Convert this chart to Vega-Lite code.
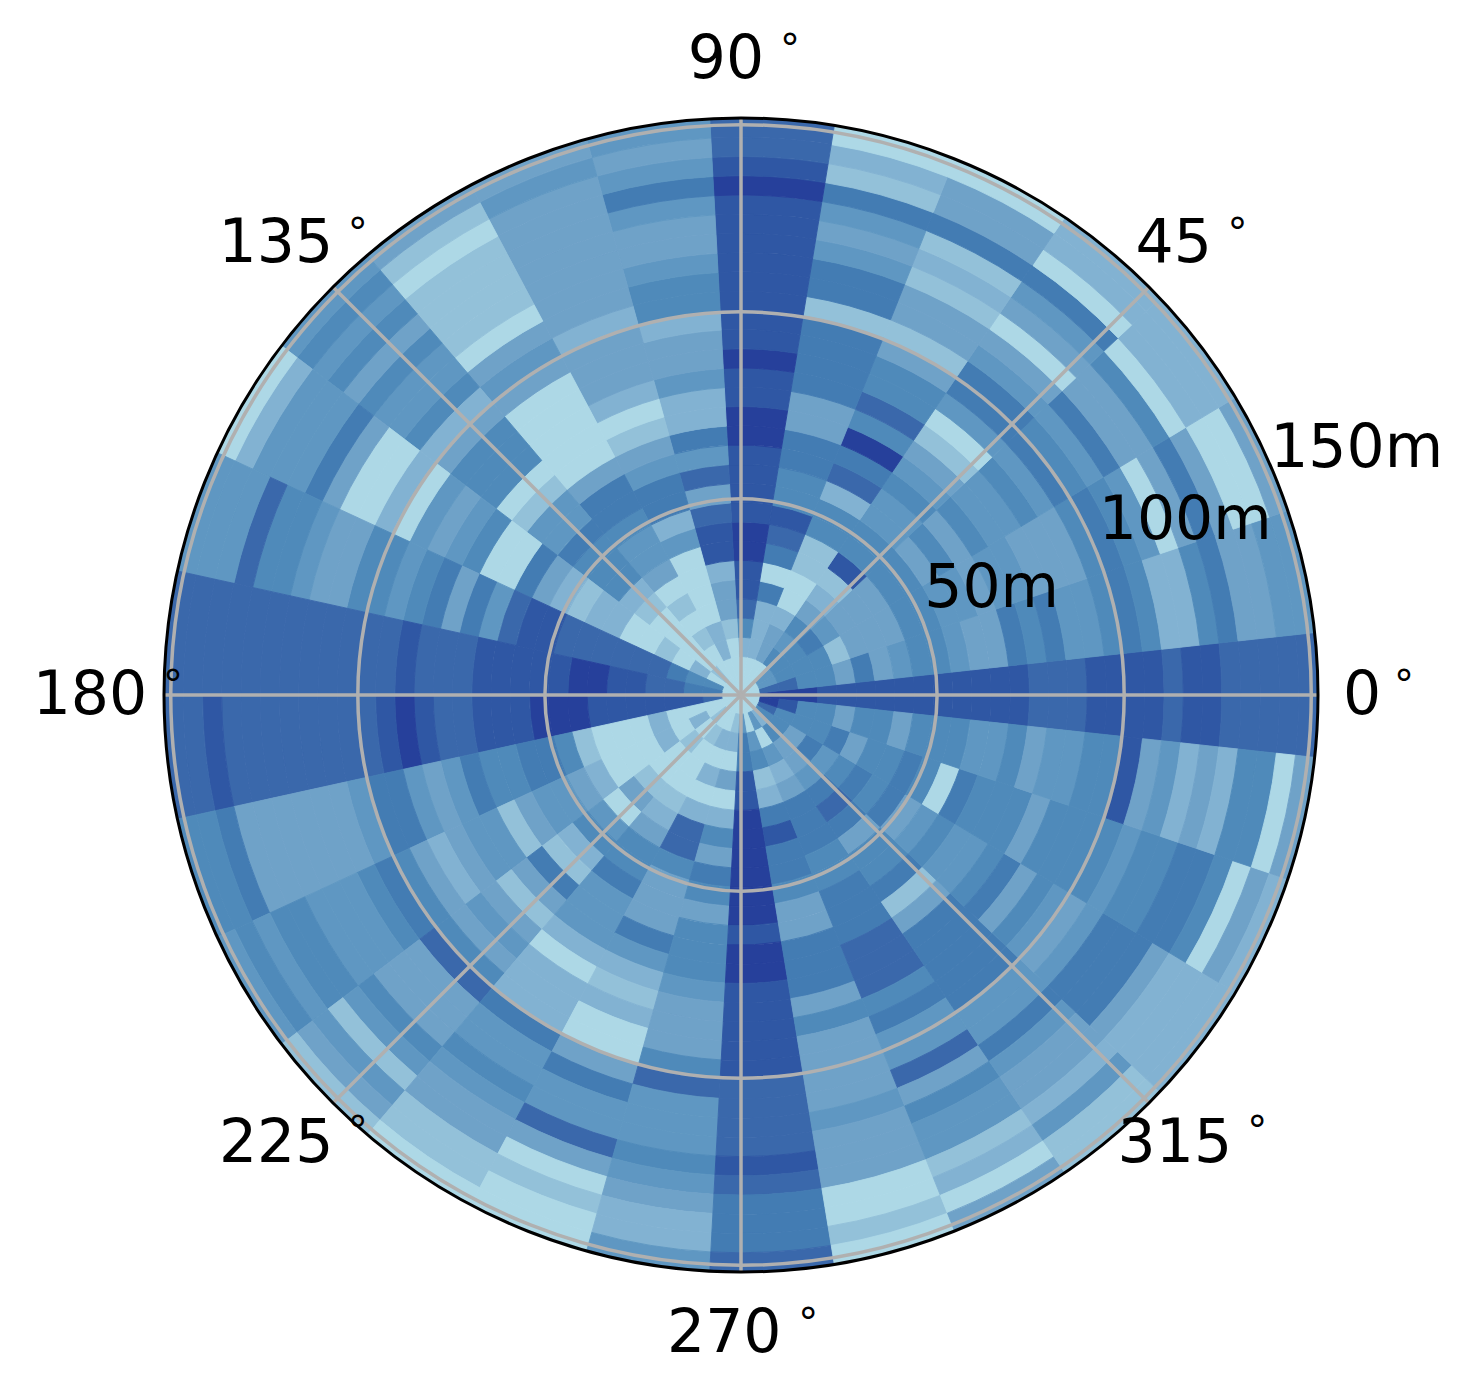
{"$schema":"https://vega.github.io/schema/vega-lite/v6.json","width":1468,"height":1390,"autosize":"none","padding":{"left":7,"right":0,"top":0,"bottom":1},"background":"white","config":{"view":{"stroke":null}},
"layer":[
{"data":{"values":[
{"t":0,"r":0,"v":0},{"t":0,"r":1,"v":9},{"t":0,"r":2,"v":9},{"t":0,"r":3,"v":9},{"t":0,"r":4,"v":8},{"t":0,"r":5,"v":8},{"t":0,"r":6,"v":8},{"t":0,"r":7,"v":8},{"t":0,"r":8,"v":8},{"t":0,"r":9,"v":8},{"t":0,"r":10,"v":8},{"t":0,"r":11,"v":8},{"t":0,"r":12,"v":8},{"t":0,"r":13,"v":8},{"t":0,"r":14,"v":8},{"t":0,"r":15,"v":7},{"t":0,"r":16,"v":7},{"t":0,"r":17,"v":7},{"t":0,"r":18,"v":8},{"t":0,"r":19,"v":8},{"t":0,"r":20,"v":8},{"t":0,"r":21,"v":8},{"t":0,"r":22,"v":7},{"t":0,"r":23,"v":8},{"t":0,"r":24,"v":8},{"t":0,"r":25,"v":7},{"t":0,"r":26,"v":7},{"t":0,"r":27,"v":7},{"t":0,"r":28,"v":7},{"t":0,"r":29,"v":7},
{"t":1,"r":0,"v":0},{"t":1,"r":1,"v":7},{"t":1,"r":2,"v":7},{"t":1,"r":3,"v":5},{"t":1,"r":4,"v":5},{"t":1,"r":5,"v":3},{"t":1,"r":6,"v":6},{"t":1,"r":7,"v":3},{"t":1,"r":8,"v":4},{"t":1,"r":9,"v":5},{"t":1,"r":10,"v":5},{"t":1,"r":11,"v":4},{"t":1,"r":12,"v":3},{"t":1,"r":13,"v":3},{"t":1,"r":14,"v":6},{"t":1,"r":15,"v":5},{"t":1,"r":16,"v":6},{"t":1,"r":17,"v":4},{"t":1,"r":18,"v":4},{"t":1,"r":19,"v":5},{"t":1,"r":20,"v":6},{"t":1,"r":21,"v":5},{"t":1,"r":22,"v":2},{"t":1,"r":23,"v":2},{"t":1,"r":24,"v":5},{"t":1,"r":25,"v":6},{"t":1,"r":26,"v":3},{"t":1,"r":27,"v":3},{"t":1,"r":28,"v":4},{"t":1,"r":29,"v":4},
{"t":2,"r":0,"v":0},{"t":2,"r":1,"v":4},{"t":2,"r":2,"v":5},{"t":2,"r":3,"v":5},{"t":2,"r":4,"v":5},{"t":2,"r":5,"v":1},{"t":2,"r":6,"v":3},{"t":2,"r":7,"v":3},{"t":2,"r":8,"v":3},{"t":2,"r":9,"v":5},{"t":2,"r":10,"v":5},{"t":2,"r":11,"v":4},{"t":2,"r":12,"v":4},{"t":2,"r":13,"v":3},{"t":2,"r":14,"v":4},{"t":2,"r":15,"v":4},{"t":2,"r":16,"v":3},{"t":2,"r":17,"v":3},{"t":2,"r":18,"v":3},{"t":2,"r":19,"v":5},{"t":2,"r":20,"v":6},{"t":2,"r":21,"v":5},{"t":2,"r":22,"v":4},{"t":2,"r":23,"v":0},{"t":2,"r":24,"v":3},{"t":2,"r":25,"v":6},{"t":2,"r":26,"v":3},{"t":2,"r":27,"v":0},{"t":2,"r":28,"v":0},{"t":2,"r":29,"v":3},
{"t":3,"r":0,"v":0},{"t":3,"r":1,"v":4},{"t":3,"r":2,"v":5},{"t":3,"r":3,"v":5},{"t":3,"r":4,"v":6},{"t":3,"r":5,"v":4},{"t":3,"r":6,"v":3},{"t":3,"r":7,"v":3},{"t":3,"r":8,"v":3},{"t":3,"r":9,"v":5},{"t":3,"r":10,"v":5},{"t":3,"r":11,"v":3},{"t":3,"r":12,"v":5},{"t":3,"r":13,"v":3},{"t":3,"r":14,"v":5},{"t":3,"r":15,"v":4},{"t":3,"r":16,"v":4},{"t":3,"r":17,"v":5},{"t":3,"r":18,"v":4},{"t":3,"r":19,"v":6},{"t":3,"r":20,"v":5},{"t":3,"r":21,"v":4},{"t":3,"r":22,"v":6},{"t":3,"r":23,"v":3},{"t":3,"r":24,"v":3},{"t":3,"r":25,"v":5},{"t":3,"r":26,"v":0},{"t":3,"r":27,"v":2},{"t":3,"r":28,"v":2},{"t":3,"r":29,"v":2},
{"t":4,"r":0,"v":0},{"t":4,"r":1,"v":0},{"t":4,"r":2,"v":5},{"t":4,"r":3,"v":4},{"t":4,"r":4,"v":5},{"t":4,"r":5,"v":3},{"t":4,"r":6,"v":2},{"t":4,"r":7,"v":1},{"t":4,"r":8,"v":8},{"t":4,"r":9,"v":5},{"t":4,"r":10,"v":5},{"t":4,"r":11,"v":4},{"t":4,"r":12,"v":4},{"t":4,"r":13,"v":5},{"t":4,"r":14,"v":4},{"t":4,"r":15,"v":3},{"t":4,"r":16,"v":1},{"t":4,"r":17,"v":0},{"t":4,"r":18,"v":4},{"t":4,"r":19,"v":6},{"t":4,"r":20,"v":6},{"t":4,"r":21,"v":4},{"t":4,"r":22,"v":3},{"t":4,"r":23,"v":0},{"t":4,"r":24,"v":3},{"t":4,"r":25,"v":4},{"t":4,"r":26,"v":6},{"t":4,"r":27,"v":0},{"t":4,"r":28,"v":2},{"t":4,"r":29,"v":2},
{"t":5,"r":0,"v":0},{"t":5,"r":1,"v":0},{"t":5,"r":2,"v":3},{"t":5,"r":3,"v":3},{"t":5,"r":4,"v":2},{"t":5,"r":5,"v":0},{"t":5,"r":6,"v":0},{"t":5,"r":7,"v":1},{"t":5,"r":8,"v":1},{"t":5,"r":9,"v":5},{"t":5,"r":10,"v":5},{"t":5,"r":11,"v":2},{"t":5,"r":12,"v":7},{"t":5,"r":13,"v":6},{"t":5,"r":14,"v":9},{"t":5,"r":15,"v":5},{"t":5,"r":16,"v":7},{"t":5,"r":17,"v":5},{"t":5,"r":18,"v":5},{"t":5,"r":19,"v":3},{"t":5,"r":20,"v":1},{"t":5,"r":21,"v":3},{"t":5,"r":22,"v":3},{"t":5,"r":23,"v":1},{"t":5,"r":24,"v":2},{"t":5,"r":25,"v":1},{"t":5,"r":26,"v":6},{"t":5,"r":27,"v":3},{"t":5,"r":28,"v":3},{"t":5,"r":29,"v":0},
{"t":6,"r":0,"v":0},{"t":6,"r":1,"v":0},{"t":6,"r":2,"v":2},{"t":6,"r":3,"v":2},{"t":6,"r":4,"v":2},{"t":6,"r":5,"v":6},{"t":6,"r":6,"v":0},{"t":6,"r":7,"v":6},{"t":6,"r":8,"v":7},{"t":6,"r":9,"v":8},{"t":6,"r":10,"v":5},{"t":6,"r":11,"v":5},{"t":6,"r":12,"v":6},{"t":6,"r":13,"v":6},{"t":6,"r":14,"v":3},{"t":6,"r":15,"v":3},{"t":6,"r":16,"v":6},{"t":6,"r":17,"v":6},{"t":6,"r":18,"v":6},{"t":6,"r":19,"v":6},{"t":6,"r":20,"v":1},{"t":6,"r":21,"v":6},{"t":6,"r":22,"v":6},{"t":6,"r":23,"v":4},{"t":6,"r":24,"v":3},{"t":6,"r":25,"v":4},{"t":6,"r":26,"v":6},{"t":6,"r":27,"v":1},{"t":6,"r":28,"v":2},{"t":6,"r":29,"v":0},
{"t":7,"r":0,"v":0},{"t":7,"r":1,"v":0},{"t":7,"r":2,"v":2},{"t":7,"r":3,"v":5},{"t":7,"r":4,"v":7},{"t":7,"r":5,"v":8},{"t":7,"r":6,"v":8},{"t":7,"r":7,"v":9},{"t":7,"r":8,"v":9},{"t":7,"r":9,"v":8},{"t":7,"r":10,"v":8},{"t":7,"r":11,"v":8},{"t":7,"r":12,"v":8},{"t":7,"r":13,"v":9},{"t":7,"r":14,"v":9},{"t":7,"r":15,"v":8},{"t":7,"r":16,"v":8},{"t":7,"r":17,"v":9},{"t":7,"r":18,"v":8},{"t":7,"r":19,"v":8},{"t":7,"r":20,"v":8},{"t":7,"r":21,"v":8},{"t":7,"r":22,"v":8},{"t":7,"r":23,"v":8},{"t":7,"r":24,"v":8},{"t":7,"r":25,"v":8},{"t":7,"r":26,"v":9},{"t":7,"r":27,"v":8},{"t":7,"r":28,"v":7},{"t":7,"r":29,"v":7},
{"t":8,"r":0,"v":0},{"t":8,"r":1,"v":0},{"t":8,"r":2,"v":0},{"t":8,"r":3,"v":1},{"t":8,"r":4,"v":3},{"t":8,"r":5,"v":3},{"t":8,"r":6,"v":2},{"t":8,"r":7,"v":8},{"t":8,"r":8,"v":8},{"t":8,"r":9,"v":7},{"t":8,"r":10,"v":3},{"t":8,"r":11,"v":7},{"t":8,"r":12,"v":4},{"t":8,"r":13,"v":6},{"t":8,"r":14,"v":2},{"t":8,"r":15,"v":2},{"t":8,"r":16,"v":4},{"t":8,"r":17,"v":3},{"t":8,"r":18,"v":3},{"t":8,"r":19,"v":2},{"t":8,"r":20,"v":5},{"t":8,"r":21,"v":5},{"t":8,"r":22,"v":4},{"t":8,"r":23,"v":3},{"t":8,"r":24,"v":3},{"t":8,"r":25,"v":4},{"t":8,"r":26,"v":6},{"t":8,"r":27,"v":4},{"t":8,"r":28,"v":3},{"t":8,"r":29,"v":4},
{"t":9,"r":0,"v":0},{"t":9,"r":1,"v":0},{"t":9,"r":2,"v":2},{"t":9,"r":3,"v":2},{"t":9,"r":4,"v":0},{"t":9,"r":5,"v":0},{"t":9,"r":6,"v":0},{"t":9,"r":7,"v":0},{"t":9,"r":8,"v":4},{"t":9,"r":9,"v":2},{"t":9,"r":10,"v":6},{"t":9,"r":11,"v":6},{"t":9,"r":12,"v":4},{"t":9,"r":13,"v":3},{"t":9,"r":14,"v":1},{"t":9,"r":15,"v":0},{"t":9,"r":16,"v":2},{"t":9,"r":17,"v":3},{"t":9,"r":18,"v":3},{"t":9,"r":19,"v":3},{"t":9,"r":20,"v":2},{"t":9,"r":21,"v":3},{"t":9,"r":22,"v":3},{"t":9,"r":23,"v":3},{"t":9,"r":24,"v":3},{"t":9,"r":25,"v":3},{"t":9,"r":26,"v":3},{"t":9,"r":27,"v":3},{"t":9,"r":28,"v":4},{"t":9,"r":29,"v":3},
{"t":10,"r":0,"v":0},{"t":10,"r":1,"v":0},{"t":10,"r":2,"v":0},{"t":10,"r":3,"v":1},{"t":10,"r":4,"v":0},{"t":10,"r":5,"v":1},{"t":10,"r":6,"v":0},{"t":10,"r":7,"v":3},{"t":10,"r":8,"v":4},{"t":10,"r":9,"v":4},{"t":10,"r":10,"v":5},{"t":10,"r":11,"v":6},{"t":10,"r":12,"v":6},{"t":10,"r":13,"v":3},{"t":10,"r":14,"v":0},{"t":10,"r":15,"v":0},{"t":10,"r":16,"v":0},{"t":10,"r":17,"v":0},{"t":10,"r":18,"v":0},{"t":10,"r":19,"v":3},{"t":10,"r":20,"v":4},{"t":10,"r":21,"v":3},{"t":10,"r":22,"v":0},{"t":10,"r":23,"v":1},{"t":10,"r":24,"v":1},{"t":10,"r":25,"v":1},{"t":10,"r":26,"v":1},{"t":10,"r":27,"v":0},{"t":10,"r":28,"v":1},{"t":10,"r":29,"v":3},
{"t":11,"r":0,"v":0},{"t":11,"r":1,"v":1},{"t":11,"r":2,"v":0},{"t":11,"r":3,"v":0},{"t":11,"r":4,"v":0},{"t":11,"r":5,"v":0},{"t":11,"r":6,"v":1},{"t":11,"r":7,"v":2},{"t":11,"r":8,"v":5},{"t":11,"r":9,"v":5},{"t":11,"r":10,"v":5},{"t":11,"r":11,"v":6},{"t":11,"r":12,"v":4},{"t":11,"r":13,"v":4},{"t":11,"r":14,"v":1},{"t":11,"r":15,"v":0},{"t":11,"r":16,"v":5},{"t":11,"r":17,"v":5},{"t":11,"r":18,"v":5},{"t":11,"r":19,"v":3},{"t":11,"r":20,"v":2},{"t":11,"r":21,"v":5},{"t":11,"r":22,"v":4},{"t":11,"r":23,"v":4},{"t":11,"r":24,"v":5},{"t":11,"r":25,"v":3},{"t":11,"r":26,"v":5},{"t":11,"r":27,"v":4},{"t":11,"r":28,"v":5},{"t":11,"r":29,"v":4},
{"t":12,"r":0,"v":0},{"t":12,"r":1,"v":0},{"t":12,"r":2,"v":2},{"t":12,"r":3,"v":0},{"t":12,"r":4,"v":1},{"t":12,"r":5,"v":0},{"t":12,"r":6,"v":0},{"t":12,"r":7,"v":2},{"t":12,"r":8,"v":2},{"t":12,"r":9,"v":1},{"t":12,"r":10,"v":2},{"t":12,"r":11,"v":3},{"t":12,"r":12,"v":6},{"t":12,"r":13,"v":0},{"t":12,"r":14,"v":0},{"t":12,"r":15,"v":5},{"t":12,"r":16,"v":4},{"t":12,"r":17,"v":3},{"t":12,"r":18,"v":4},{"t":12,"r":19,"v":0},{"t":12,"r":20,"v":2},{"t":12,"r":21,"v":0},{"t":12,"r":22,"v":0},{"t":12,"r":23,"v":3},{"t":12,"r":24,"v":6},{"t":12,"r":25,"v":4},{"t":12,"r":26,"v":4},{"t":12,"r":27,"v":4},{"t":12,"r":28,"v":2},{"t":12,"r":29,"v":0},
{"t":13,"r":0,"v":0},{"t":13,"r":1,"v":5},{"t":13,"r":2,"v":5},{"t":13,"r":3,"v":6},{"t":13,"r":4,"v":7},{"t":13,"r":5,"v":7},{"t":13,"r":6,"v":7},{"t":13,"r":7,"v":7},{"t":13,"r":8,"v":7},{"t":13,"r":9,"v":7},{"t":13,"r":10,"v":8},{"t":13,"r":11,"v":8},{"t":13,"r":12,"v":7},{"t":13,"r":13,"v":4},{"t":13,"r":14,"v":6},{"t":13,"r":15,"v":3},{"t":13,"r":16,"v":6},{"t":13,"r":17,"v":5},{"t":13,"r":18,"v":4},{"t":13,"r":19,"v":5},{"t":13,"r":20,"v":5},{"t":13,"r":21,"v":3},{"t":13,"r":22,"v":3},{"t":13,"r":23,"v":4},{"t":13,"r":24,"v":5},{"t":13,"r":25,"v":5},{"t":13,"r":26,"v":7},{"t":13,"r":27,"v":4},{"t":13,"r":28,"v":4},{"t":13,"r":29,"v":4},
{"t":14,"r":0,"v":0},{"t":14,"r":1,"v":6},{"t":14,"r":2,"v":6},{"t":14,"r":3,"v":7},{"t":14,"r":4,"v":7},{"t":14,"r":5,"v":8},{"t":14,"r":6,"v":8},{"t":14,"r":7,"v":9},{"t":14,"r":8,"v":9},{"t":14,"r":9,"v":8},{"t":14,"r":10,"v":8},{"t":14,"r":11,"v":8},{"t":14,"r":12,"v":8},{"t":14,"r":13,"v":8},{"t":14,"r":14,"v":7},{"t":14,"r":15,"v":7},{"t":14,"r":16,"v":7},{"t":14,"r":17,"v":8},{"t":14,"r":18,"v":7},{"t":14,"r":19,"v":7},{"t":14,"r":20,"v":7},{"t":14,"r":21,"v":7},{"t":14,"r":22,"v":7},{"t":14,"r":23,"v":7},{"t":14,"r":24,"v":7},{"t":14,"r":25,"v":7},{"t":14,"r":26,"v":7},{"t":14,"r":27,"v":7},{"t":14,"r":28,"v":7},{"t":14,"r":29,"v":7},
{"t":15,"r":0,"v":0},{"t":15,"r":1,"v":7},{"t":15,"r":2,"v":8},{"t":15,"r":3,"v":8},{"t":15,"r":4,"v":8},{"t":15,"r":5,"v":8},{"t":15,"r":6,"v":8},{"t":15,"r":7,"v":8},{"t":15,"r":8,"v":9},{"t":15,"r":9,"v":9},{"t":15,"r":10,"v":9},{"t":15,"r":11,"v":8},{"t":15,"r":12,"v":8},{"t":15,"r":13,"v":8},{"t":15,"r":14,"v":7},{"t":15,"r":15,"v":7},{"t":15,"r":16,"v":8},{"t":15,"r":17,"v":9},{"t":15,"r":18,"v":8},{"t":15,"r":19,"v":7},{"t":15,"r":20,"v":7},{"t":15,"r":21,"v":7},{"t":15,"r":22,"v":7},{"t":15,"r":23,"v":7},{"t":15,"r":24,"v":7},{"t":15,"r":25,"v":7},{"t":15,"r":26,"v":7},{"t":15,"r":27,"v":8},{"t":15,"r":28,"v":7},{"t":15,"r":29,"v":7},
{"t":16,"r":0,"v":0},{"t":16,"r":1,"v":0},{"t":16,"r":2,"v":0},{"t":16,"r":3,"v":0},{"t":16,"r":4,"v":2},{"t":16,"r":5,"v":0},{"t":16,"r":6,"v":0},{"t":16,"r":7,"v":0},{"t":16,"r":8,"v":1},{"t":16,"r":9,"v":5},{"t":16,"r":10,"v":6},{"t":16,"r":11,"v":6},{"t":16,"r":12,"v":5},{"t":16,"r":13,"v":5},{"t":16,"r":14,"v":6},{"t":16,"r":15,"v":4},{"t":16,"r":16,"v":3},{"t":16,"r":17,"v":4},{"t":16,"r":18,"v":6},{"t":16,"r":19,"v":6},{"t":16,"r":20,"v":4},{"t":16,"r":21,"v":3},{"t":16,"r":22,"v":3},{"t":16,"r":23,"v":3},{"t":16,"r":24,"v":3},{"t":16,"r":25,"v":3},{"t":16,"r":26,"v":3},{"t":16,"r":27,"v":6},{"t":16,"r":28,"v":5},{"t":16,"r":29,"v":5},
{"t":17,"r":0,"v":0},{"t":17,"r":1,"v":0},{"t":17,"r":2,"v":2},{"t":17,"r":3,"v":0},{"t":17,"r":4,"v":2},{"t":17,"r":5,"v":0},{"t":17,"r":6,"v":0},{"t":17,"r":7,"v":0},{"t":17,"r":8,"v":2},{"t":17,"r":9,"v":3},{"t":17,"r":10,"v":4},{"t":17,"r":11,"v":4},{"t":17,"r":12,"v":3},{"t":17,"r":13,"v":1},{"t":17,"r":14,"v":4},{"t":17,"r":15,"v":4},{"t":17,"r":16,"v":3},{"t":17,"r":17,"v":2},{"t":17,"r":18,"v":3},{"t":17,"r":19,"v":5},{"t":17,"r":20,"v":6},{"t":17,"r":21,"v":5},{"t":17,"r":22,"v":4},{"t":17,"r":23,"v":4},{"t":17,"r":24,"v":4},{"t":17,"r":25,"v":5},{"t":17,"r":26,"v":5},{"t":17,"r":27,"v":4},{"t":17,"r":28,"v":5},{"t":17,"r":29,"v":4},
{"t":18,"r":0,"v":0},{"t":18,"r":1,"v":1},{"t":18,"r":2,"v":0},{"t":18,"r":3,"v":1},{"t":18,"r":4,"v":0},{"t":18,"r":5,"v":0},{"t":18,"r":6,"v":1},{"t":18,"r":7,"v":3},{"t":18,"r":8,"v":0},{"t":18,"r":9,"v":4},{"t":18,"r":10,"v":5},{"t":18,"r":11,"v":2},{"t":18,"r":12,"v":1},{"t":18,"r":13,"v":6},{"t":18,"r":14,"v":3},{"t":18,"r":15,"v":1},{"t":18,"r":16,"v":3},{"t":18,"r":17,"v":4},{"t":18,"r":18,"v":3},{"t":18,"r":19,"v":5},{"t":18,"r":20,"v":7},{"t":18,"r":21,"v":3},{"t":18,"r":22,"v":3},{"t":18,"r":23,"v":3},{"t":18,"r":24,"v":5},{"t":18,"r":25,"v":4},{"t":18,"r":26,"v":1},{"t":18,"r":27,"v":4},{"t":18,"r":28,"v":3},{"t":18,"r":29,"v":1},
{"t":19,"r":0,"v":0},{"t":19,"r":1,"v":0},{"t":19,"r":2,"v":1},{"t":19,"r":3,"v":0},{"t":19,"r":4,"v":0},{"t":19,"r":5,"v":0},{"t":19,"r":6,"v":1},{"t":19,"r":7,"v":2},{"t":19,"r":8,"v":3},{"t":19,"r":9,"v":5},{"t":19,"r":10,"v":5},{"t":19,"r":11,"v":6},{"t":19,"r":12,"v":4},{"t":19,"r":13,"v":4},{"t":19,"r":14,"v":4},{"t":19,"r":15,"v":2},{"t":19,"r":16,"v":0},{"t":19,"r":17,"v":2},{"t":19,"r":18,"v":2},{"t":19,"r":19,"v":2},{"t":19,"r":20,"v":6},{"t":19,"r":21,"v":4},{"t":19,"r":22,"v":4},{"t":19,"r":23,"v":5},{"t":19,"r":24,"v":4},{"t":19,"r":25,"v":3},{"t":19,"r":26,"v":3},{"t":19,"r":27,"v":1},{"t":19,"r":28,"v":1},{"t":19,"r":29,"v":0},
{"t":20,"r":0,"v":0},{"t":20,"r":1,"v":0},{"t":20,"r":2,"v":2},{"t":20,"r":3,"v":0},{"t":20,"r":4,"v":2},{"t":20,"r":5,"v":0},{"t":20,"r":6,"v":2},{"t":20,"r":7,"v":7},{"t":20,"r":8,"v":7},{"t":20,"r":9,"v":5},{"t":20,"r":10,"v":3},{"t":20,"r":11,"v":3},{"t":20,"r":12,"v":3},{"t":20,"r":13,"v":6},{"t":20,"r":14,"v":4},{"t":20,"r":15,"v":2},{"t":20,"r":16,"v":1},{"t":20,"r":17,"v":2},{"t":20,"r":18,"v":0},{"t":20,"r":19,"v":0},{"t":20,"r":20,"v":3},{"t":20,"r":21,"v":6},{"t":20,"r":22,"v":4},{"t":20,"r":23,"v":4},{"t":20,"r":24,"v":7},{"t":20,"r":25,"v":3},{"t":20,"r":26,"v":0},{"t":20,"r":27,"v":1},{"t":20,"r":28,"v":0},{"t":20,"r":29,"v":0},
{"t":21,"r":0,"v":0},{"t":21,"r":1,"v":1},{"t":21,"r":2,"v":2},{"t":21,"r":3,"v":0},{"t":21,"r":4,"v":3},{"t":21,"r":5,"v":0},{"t":21,"r":6,"v":2},{"t":21,"r":7,"v":5},{"t":21,"r":8,"v":3},{"t":21,"r":9,"v":6},{"t":21,"r":10,"v":5},{"t":21,"r":11,"v":3},{"t":21,"r":12,"v":5},{"t":21,"r":13,"v":5},{"t":21,"r":14,"v":5},{"t":21,"r":15,"v":4},{"t":21,"r":16,"v":3},{"t":21,"r":17,"v":3},{"t":21,"r":18,"v":3},{"t":21,"r":19,"v":5},{"t":21,"r":20,"v":7},{"t":21,"r":21,"v":4},{"t":21,"r":22,"v":4},{"t":21,"r":23,"v":4},{"t":21,"r":24,"v":5},{"t":21,"r":25,"v":4},{"t":21,"r":26,"v":3},{"t":21,"r":27,"v":2},{"t":21,"r":28,"v":2},{"t":21,"r":29,"v":4},
{"t":22,"r":0,"v":0},{"t":22,"r":1,"v":4},{"t":22,"r":2,"v":6},{"t":22,"r":3,"v":6},{"t":22,"r":4,"v":8},{"t":22,"r":5,"v":8},{"t":22,"r":6,"v":9},{"t":22,"r":7,"v":9},{"t":22,"r":8,"v":9},{"t":22,"r":9,"v":9},{"t":22,"r":10,"v":9},{"t":22,"r":11,"v":9},{"t":22,"r":12,"v":8},{"t":22,"r":13,"v":9},{"t":22,"r":14,"v":9},{"t":22,"r":15,"v":8},{"t":22,"r":16,"v":8},{"t":22,"r":17,"v":8},{"t":22,"r":18,"v":8},{"t":22,"r":19,"v":8},{"t":22,"r":20,"v":7},{"t":22,"r":21,"v":7},{"t":22,"r":22,"v":7},{"t":22,"r":23,"v":7},{"t":22,"r":24,"v":8},{"t":22,"r":25,"v":7},{"t":22,"r":26,"v":6},{"t":22,"r":27,"v":6},{"t":22,"r":28,"v":6},{"t":22,"r":29,"v":7},
{"t":23,"r":0,"v":0},{"t":23,"r":1,"v":0},{"t":23,"r":2,"v":4},{"t":23,"r":3,"v":5},{"t":23,"r":4,"v":1},{"t":23,"r":5,"v":2},{"t":23,"r":6,"v":6},{"t":23,"r":7,"v":8},{"t":23,"r":8,"v":6},{"t":23,"r":9,"v":6},{"t":23,"r":10,"v":5},{"t":23,"r":11,"v":3},{"t":23,"r":12,"v":3},{"t":23,"r":13,"v":6},{"t":23,"r":14,"v":6},{"t":23,"r":15,"v":6},{"t":23,"r":16,"v":3},{"t":23,"r":17,"v":5},{"t":23,"r":18,"v":3},{"t":23,"r":19,"v":3},{"t":23,"r":20,"v":3},{"t":23,"r":21,"v":3},{"t":23,"r":22,"v":4},{"t":23,"r":23,"v":3},{"t":23,"r":24,"v":3},{"t":23,"r":25,"v":3},{"t":23,"r":26,"v":0},{"t":23,"r":27,"v":0},{"t":23,"r":28,"v":1},{"t":23,"r":29,"v":0},
{"t":24,"r":0,"v":0},{"t":24,"r":1,"v":4},{"t":24,"r":2,"v":0},{"t":24,"r":3,"v":4},{"t":24,"r":4,"v":2},{"t":24,"r":5,"v":3},{"t":24,"r":6,"v":6},{"t":24,"r":7,"v":6},{"t":24,"r":8,"v":6},{"t":24,"r":9,"v":5},{"t":24,"r":10,"v":5},{"t":24,"r":11,"v":6},{"t":24,"r":12,"v":6},{"t":24,"r":13,"v":6},{"t":24,"r":14,"v":7},{"t":24,"r":15,"v":7},{"t":24,"r":16,"v":7},{"t":24,"r":17,"v":5},{"t":24,"r":18,"v":6},{"t":24,"r":19,"v":4},{"t":24,"r":20,"v":4},{"t":24,"r":21,"v":7},{"t":24,"r":22,"v":3},{"t":24,"r":23,"v":5},{"t":24,"r":24,"v":4},{"t":24,"r":25,"v":4},{"t":24,"r":26,"v":1},{"t":24,"r":27,"v":2},{"t":24,"r":28,"v":0},{"t":24,"r":29,"v":3},
{"t":25,"r":0,"v":0},{"t":25,"r":1,"v":2},{"t":25,"r":2,"v":5},{"t":25,"r":3,"v":3},{"t":25,"r":4,"v":3},{"t":25,"r":5,"v":4},{"t":25,"r":6,"v":6},{"t":25,"r":7,"v":7},{"t":25,"r":8,"v":6},{"t":25,"r":9,"v":3},{"t":25,"r":10,"v":5},{"t":25,"r":11,"v":5},{"t":25,"r":12,"v":6},{"t":25,"r":13,"v":1},{"t":25,"r":14,"v":3},{"t":25,"r":15,"v":6},{"t":25,"r":16,"v":6},{"t":25,"r":17,"v":6},{"t":25,"r":18,"v":6},{"t":25,"r":19,"v":6},{"t":25,"r":20,"v":4},{"t":25,"r":21,"v":4},{"t":25,"r":22,"v":6},{"t":25,"r":23,"v":4},{"t":25,"r":24,"v":3},{"t":25,"r":25,"v":3},{"t":25,"r":26,"v":2},{"t":25,"r":27,"v":4},{"t":25,"r":28,"v":1},{"t":25,"r":29,"v":1},
{"t":26,"r":0,"v":0},{"t":26,"r":1,"v":5},{"t":26,"r":2,"v":5},{"t":26,"r":3,"v":3},{"t":26,"r":4,"v":6},{"t":26,"r":5,"v":4},{"t":26,"r":6,"v":5},{"t":26,"r":7,"v":6},{"t":26,"r":8,"v":5},{"t":26,"r":9,"v":6},{"t":26,"r":10,"v":3},{"t":26,"r":11,"v":4},{"t":26,"r":12,"v":5},{"t":26,"r":13,"v":4},{"t":26,"r":14,"v":4},{"t":26,"r":15,"v":5},{"t":26,"r":16,"v":6},{"t":26,"r":17,"v":3},{"t":26,"r":18,"v":5},{"t":26,"r":19,"v":4},{"t":26,"r":20,"v":3},{"t":26,"r":21,"v":4},{"t":26,"r":22,"v":6},{"t":26,"r":23,"v":6},{"t":26,"r":24,"v":6},{"t":26,"r":25,"v":3},{"t":26,"r":26,"v":2},{"t":26,"r":27,"v":2},{"t":26,"r":28,"v":2},{"t":26,"r":29,"v":2},
{"t":27,"r":0,"v":0},{"t":27,"r":1,"v":7},{"t":27,"r":2,"v":5},{"t":27,"r":3,"v":5},{"t":27,"r":4,"v":5},{"t":27,"r":5,"v":6},{"t":27,"r":6,"v":3},{"t":27,"r":7,"v":5},{"t":27,"r":8,"v":5},{"t":27,"r":9,"v":6},{"t":27,"r":10,"v":5},{"t":27,"r":11,"v":0},{"t":27,"r":12,"v":6},{"t":27,"r":13,"v":5},{"t":27,"r":14,"v":5},{"t":27,"r":15,"v":5},{"t":27,"r":16,"v":3},{"t":27,"r":17,"v":5},{"t":27,"r":18,"v":5},{"t":27,"r":19,"v":5},{"t":27,"r":20,"v":5},{"t":27,"r":21,"v":4},{"t":27,"r":22,"v":5},{"t":27,"r":23,"v":5},{"t":27,"r":24,"v":6},{"t":27,"r":25,"v":6},{"t":27,"r":26,"v":5},{"t":27,"r":27,"v":0},{"t":27,"r":28,"v":3},{"t":27,"r":29,"v":2},
{"t":28,"r":0,"v":0},{"t":28,"r":1,"v":9},{"t":28,"r":2,"v":8},{"t":28,"r":3,"v":5},{"t":28,"r":4,"v":5},{"t":28,"r":5,"v":3},{"t":28,"r":6,"v":5},{"t":28,"r":7,"v":5},{"t":28,"r":8,"v":3},{"t":28,"r":9,"v":5},{"t":28,"r":10,"v":5},{"t":28,"r":11,"v":5},{"t":28,"r":12,"v":4},{"t":28,"r":13,"v":4},{"t":28,"r":14,"v":5},{"t":28,"r":15,"v":3},{"t":28,"r":16,"v":4},{"t":28,"r":17,"v":4},{"t":28,"r":18,"v":5},{"t":28,"r":19,"v":5},{"t":28,"r":20,"v":8},{"t":28,"r":21,"v":3},{"t":28,"r":22,"v":4},{"t":28,"r":23,"v":2},{"t":28,"r":24,"v":3},{"t":28,"r":25,"v":2},{"t":28,"r":26,"v":5},{"t":28,"r":27,"v":5},{"t":28,"r":28,"v":0},{"t":28,"r":29,"v":3}
]},
"transform":[{"calculate":"12.4138*datum.t-6.2069","as":"a"},{"calculate":"12.4138*(datum.t+1)-6.2069","as":"a2"},{"calculate":"5.14*datum.r-2.4","as":"m"},{"calculate":"5.14*(datum.r+1)-2.4","as":"m2"}],
"mark":{"type":"arc","strokeWidth":0.9},
"encoding":{
"theta":{"field":"a","type":"quantitative","stack":null,"scale":{"type":"linear","domain":[0,360],"range":[1.5708,-4.7124]}},"theta2":{"field":"a2"},
"radius":{"field":"m","type":"quantitative","scale":{"type":"linear","zero":false,"domain":[-2.4,151.8],"range":[0,577]}},"radius2":{"field":"m2"},
"fill":{"field":"v","type":"quantitative","legend":null,"scale":{"type":"linear","domain":[0,1,2,3,4,5,6,7,8,9],"range":["#add8e6","#93c1d9","#82b2d2","#6fa2c8","#5f97c2","#4f8aba","#437cb3","#3a68ab","#2f57a4","#26409b"]}},
"stroke":{"field":"v","type":"quantitative","legend":null,"scale":{"type":"linear","domain":[0,1,2,3,4,5,6,7,8,9],"range":["#add8e6","#93c1d9","#82b2d2","#6fa2c8","#5f97c2","#4f8aba","#437cb3","#3a68ab","#2f57a4","#26409b"]}}
}},
{"data":{"values":[{"m":50,"a":0,"a2":360},{"m":100,"a":0,"a2":360},{"m":150,"a":0,"a2":360}]},
"mark":{"type":"arc","fillOpacity":0,"stroke":"#b0b0b0","strokeWidth":3.5},
"encoding":{"theta":{"field":"a","type":"quantitative","stack":null},"theta2":{"field":"a2"},"radius":{"field":"m","type":"quantitative"},"radius2":{"field":"m"}}},
{"data":{"values":[{"a":0},{"a":45},{"a":90},{"a":135},{"a":180},{"a":225},{"a":270},{"a":315}]},
"transform":[{"calculate":"-2.4","as":"m0"},{"calculate":"151.8","as":"m1"}],
"mark":{"type":"arc","fillOpacity":0,"stroke":"#b0b0b0","strokeWidth":3.5},
"encoding":{"theta":{"field":"a","type":"quantitative","stack":null},"theta2":{"field":"a"},"radius":{"field":"m0","type":"quantitative"},"radius2":{"field":"m1"}}},
{"data":{"values":[{"m":151.8,"a":0,"a2":360}]},
"mark":{"type":"arc","fillOpacity":0,"stroke":"black","strokeWidth":3},
"encoding":{"theta":{"field":"a","type":"quantitative","stack":null},"theta2":{"field":"a2"},"radius":{"field":"m","type":"quantitative"},"radius2":{"field":"m"}}},
{"data":{"values":[{"a":-0.1,"m":163.6,"l":"0"},{"a":46.2,"m":164.7,"l":"45"},{"a":91.35,"m":167.3,"l":"90"},{"a":135.9,"m":170.7,"l":"135"},{"a":180.1,"m":171.6,"l":"180"},{"a":224,"m":170.3,"l":"225"},{"a":268.5,"m":168.4,"l":"270"},{"a":314,"m":164.5,"l":"315"},{"a":22.9,"m":70.3,"l":"50m"},{"a":21.4,"m":125.1,"l":"100m"},{"a":21.8,"m":174.8,"l":"150m"}]},
"mark":{"type":"text","font":"DejaVu Sans","fontSize":60,"align":"center","baseline":"middle","color":"black"},
"encoding":{"theta":{"field":"a","type":"quantitative","stack":null},"radius":{"field":"m","type":"quantitative"},"text":{"field":"l","type":"nominal"}}},
{"data":{"values":[{"a":0.7,"m":174.8,"l":"°"},{"a":42.8,"m":178.4,"l":"°"},{"a":85.65,"m":170.2,"l":"°"},{"a":129.8,"m":157.6,"l":"°"},{"a":179.2,"m":149.4,"l":"°"},{"a":228.8,"m":153.1,"l":"°"},{"a":276.1,"m":166.9,"l":"°"},{"a":319.7,"m":178.5,"l":"°"}]},
"mark":{"type":"text","font":"DejaVu Sans","fontSize":40,"align":"center","baseline":"middle","color":"black"},
"encoding":{"theta":{"field":"a","type":"quantitative","stack":null},"radius":{"field":"m","type":"quantitative"},"text":{"field":"l","type":"nominal"}}}
]}
